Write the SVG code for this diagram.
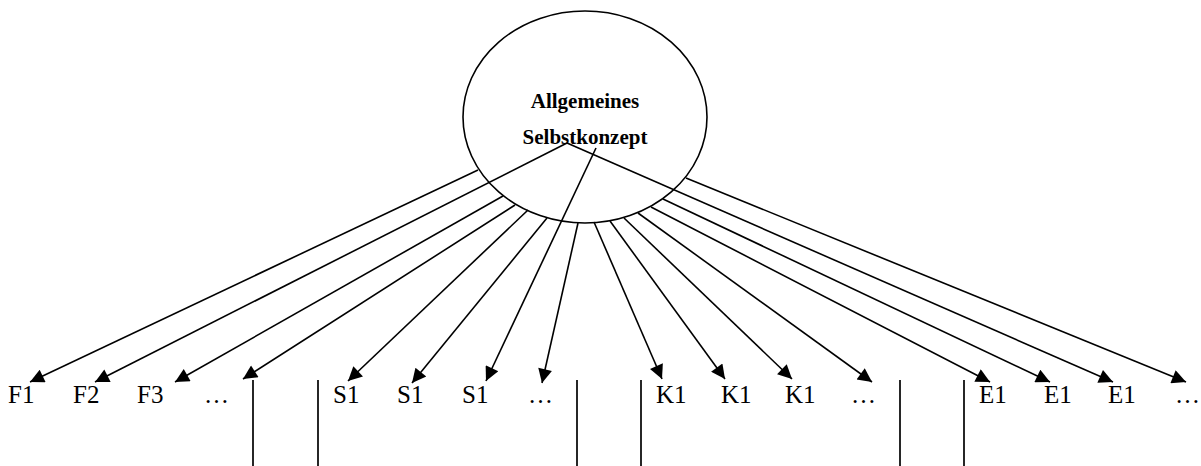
<svg xmlns="http://www.w3.org/2000/svg" width="1201" height="466" viewBox="0 0 1201 466">
<style>
.bg{fill:#ffffff}
.node-shape{fill:#ffffff;stroke:#000;stroke-width:1.6}
.title{font-family:"Liberation Serif","Times New Roman",serif;font-weight:bold;font-size:21px;fill:#000;text-anchor:middle}
.lbl{font-family:"Liberation Serif","Times New Roman",serif;font-size:25px;fill:#000}
.conn line{stroke:#000;stroke-width:1.6;fill:none;marker-end:url(#arrow)}
.sep line{stroke:#000;stroke-width:1.7}
</style>
<defs>
<marker id="arrow" viewBox="0 0 10 10" refX="10" refY="5" markerWidth="17" markerHeight="14" markerUnits="userSpaceOnUse" orient="auto">
<path d="M0,0 L10,5 L0,10 z" fill="#000"/>
</marker>
</defs>
<rect class="bg" x="0" y="0" width="1201" height="466"/>
<g id="node-selbstkonzept">
<ellipse class="node-shape" cx="585" cy="117" rx="122" ry="106"/>
<text class="title" x="585" y="108">Allgemeines</text>
<text class="title" x="585" y="144">Selbstkonzept</text>
</g>
<g id="connectors" class="conn">
<line x1="478" y1="170" x2="30" y2="382"/>
<line x1="567" y1="143" x2="95" y2="382"/>
<line x1="503" y1="196" x2="175" y2="382"/>
<line x1="515" y1="205" x2="243" y2="379"/>
<line x1="528" y1="210" x2="348" y2="381"/>
<line x1="547" y1="218" x2="412" y2="383"/>
<line x1="596" y1="148" x2="486" y2="381"/>
<line x1="578" y1="223" x2="542" y2="383"/>
<line x1="594" y1="222" x2="662" y2="379"/>
<line x1="610" y1="221" x2="725" y2="379"/>
<line x1="624" y1="218" x2="792" y2="379"/>
<line x1="638" y1="213" x2="872" y2="382"/>
<line x1="651" y1="207" x2="990" y2="382"/>
<line x1="663" y1="199" x2="1050" y2="382"/>
<line x1="567" y1="143" x2="1113" y2="382"/>
<line x1="686" y1="178" x2="1186" y2="382"/>
</g>
<g id="separators" class="sep">
<line x1="253" y1="380" x2="253" y2="466"/>
<line x1="318" y1="380" x2="318" y2="466"/>
<line x1="577" y1="380" x2="577" y2="466"/>
<line x1="641" y1="380" x2="641" y2="466"/>
<line x1="900" y1="380" x2="900" y2="466"/>
<line x1="964" y1="380" x2="964" y2="466"/>
</g>
<g id="node-f1"><text class="lbl" x="8" y="403">F1</text></g>
<g id="node-f2"><text class="lbl" x="73" y="403">F2</text></g>
<g id="node-f3"><text class="lbl" x="137" y="403">F3</text></g>
<g id="node-f-more"><text class="lbl" x="204" y="403">…</text></g>
<g id="node-s1a"><text class="lbl" x="333" y="403">S1</text></g>
<g id="node-s1b"><text class="lbl" x="397" y="403">S1</text></g>
<g id="node-s1c"><text class="lbl" x="462" y="403">S1</text></g>
<g id="node-s-more"><text class="lbl" x="528" y="403">…</text></g>
<g id="node-k1a"><text class="lbl" x="656" y="403">K1</text></g>
<g id="node-k1b"><text class="lbl" x="721" y="403">K1</text></g>
<g id="node-k1c"><text class="lbl" x="785" y="403">K1</text></g>
<g id="node-k-more"><text class="lbl" x="851" y="403">…</text></g>
<g id="node-e1a"><text class="lbl" x="979" y="403">E1</text></g>
<g id="node-e1b"><text class="lbl" x="1044" y="403">E1</text></g>
<g id="node-e1c"><text class="lbl" x="1108" y="403">E1</text></g>
<g id="node-e-more"><text class="lbl" x="1175" y="403">…</text></g>
</svg>
